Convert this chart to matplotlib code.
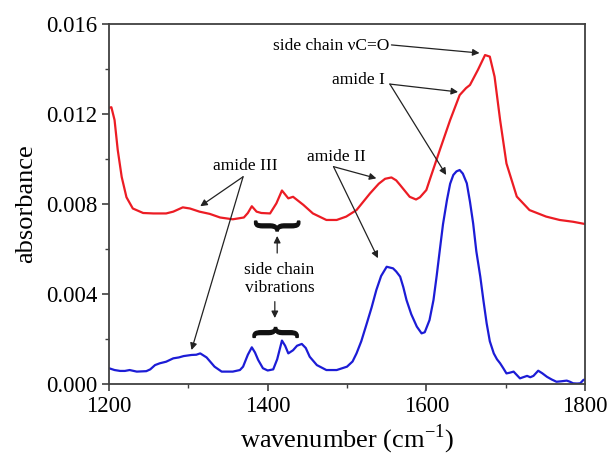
# FTIR spectra: two absorbance curves with band assignments

import matplotlib
matplotlib.use('Agg')
import matplotlib.pyplot as plt
from matplotlib.textpath import TextPath
from matplotlib.patches import PathPatch
from matplotlib.font_manager import FontProperties
from matplotlib.transforms import Affine2D

plt.rcParams['font.family'] = ['Liberation Serif', 'DejaVu Serif']
plt.rcParams['mathtext.fontset'] = 'custom'
plt.rcParams['mathtext.rm'] = 'Liberation Serif'

# red spectrum (upper)
red_x = [1200, 1203, 1207, 1211, 1216, 1222, 1230, 1243, 1256, 1272, 1281, 1293,
         1302, 1314, 1327, 1340, 1356, 1370, 1375, 1380, 1386, 1392, 1403, 1411,
         1418, 1426, 1432, 1445, 1457, 1474, 1487, 1499, 1512, 1529, 1540, 1548,
         1556, 1562, 1567, 1579, 1587, 1592, 1600, 1605, 1617, 1630, 1642, 1650,
         1655, 1665, 1674, 1680, 1686, 1693, 1701, 1714, 1730, 1751, 1768, 1785,
         1800]
red_y = [0.01228, 0.01230, 0.01173, 0.01040, 0.00920, 0.00830, 0.00780, 0.00760,
         0.00758, 0.00758, 0.00766, 0.00785, 0.00780, 0.00766, 0.00756, 0.00740,
         0.00732, 0.00740, 0.00760, 0.00790, 0.00766, 0.00760, 0.00758, 0.00803,
         0.00860, 0.00825, 0.00832, 0.00796, 0.00758, 0.00729, 0.00729, 0.00744,
         0.00773, 0.00847, 0.00890, 0.00912, 0.00918, 0.00905, 0.00884, 0.00832,
         0.00820, 0.00830, 0.00862, 0.00915, 0.01040, 0.01173, 0.01284, 0.01315,
         0.01329, 0.01396, 0.01462, 0.01455, 0.01366, 0.01173, 0.00980, 0.00833,
         0.00773, 0.00744, 0.00729, 0.00721, 0.00711]

# blue spectrum (lower)
blue_x = [1200, 1207, 1214, 1220, 1226, 1235, 1247, 1252, 1258, 1264, 1272, 1281,
          1288, 1294, 1304, 1310, 1315, 1323, 1333, 1342, 1356, 1365, 1369, 1375,
          1380, 1384, 1388, 1394, 1400, 1407, 1412, 1418, 1422, 1426, 1432, 1437,
          1443, 1448, 1453, 1462, 1474, 1487, 1500, 1507, 1512, 1518, 1525, 1531,
          1537, 1543, 1550, 1558, 1562, 1567, 1571, 1575, 1581, 1588, 1594, 1598,
          1604, 1609, 1613, 1617, 1621, 1626, 1630, 1634, 1638, 1642, 1646, 1651,
          1655, 1659, 1663, 1668, 1672, 1676, 1680, 1685, 1689, 1693, 1697, 1701,
          1705, 1710, 1714, 1718, 1722, 1727, 1731, 1735, 1741, 1746, 1752, 1758,
          1764, 1770, 1777, 1781, 1785, 1790, 1794, 1798, 1800]
blue_y = [0.00070, 0.00062, 0.00058, 0.00058, 0.00062, 0.00055, 0.00057, 0.00065,
          0.00084, 0.00092, 0.00099, 0.00114, 0.00118, 0.00124, 0.00129, 0.00130,
          0.00136, 0.00118, 0.00077, 0.00055, 0.00055, 0.00062, 0.00077, 0.00130,
          0.00163, 0.00140, 0.00107, 0.00070, 0.00060, 0.00065, 0.00110, 0.00193,
          0.00170, 0.00136, 0.00150, 0.00170, 0.00178, 0.00160, 0.00121, 0.00084,
          0.00062, 0.00062, 0.00077, 0.00100, 0.00136, 0.00190, 0.00270, 0.00340,
          0.00418, 0.00480, 0.00521, 0.00514, 0.00500, 0.00477, 0.00430, 0.00373,
          0.00310, 0.00255, 0.00225, 0.00230, 0.00284, 0.00373, 0.00480, 0.00596,
          0.00710, 0.00818, 0.00890, 0.00929, 0.00945, 0.00951, 0.00935, 0.00892,
          0.00810, 0.00714, 0.00590, 0.00477, 0.00370, 0.00270, 0.00190, 0.00136,
          0.00110, 0.00092, 0.00070, 0.00047, 0.00050, 0.00055, 0.00040, 0.00025,
          0.00030, 0.00036, 0.00030, 0.00036, 0.00059, 0.00048, 0.00032, 0.00020,
          0.00010, 0.00012, 0.00015, 0.00010, 0.00003, 0.00002, 0.00003, 0.00018,
          0.00020]

y_ticks = [0.000, 0.004, 0.008, 0.012, 0.016]
x_ticks = [1200, 1400, 1600, 1800]

fig = plt.figure(figsize=(6.09, 4.58), dpi=100)
ax = fig.add_axes([0.179, 0.1616, 0.7816, 0.786])

ax.plot(red_x, red_y, color='#ec1c24', linewidth=1.6, solid_joinstyle='round')
ax.plot(blue_x, blue_y, color='#1c1cd6', linewidth=1.6, solid_joinstyle='round')

ax.set_xlim(1200, 1800)
ax.set_ylim(0, 0.016)
ax.set_xticks(x_ticks)
ax.set_yticks(y_ticks)
ax.set_yticklabels(['%.3f' % v for v in y_ticks])
ax.set_xticks([1300, 1500, 1700], minor=True)
ax.set_yticks([0.002, 0.006, 0.010, 0.014], minor=True)
ax.tick_params(which='major', direction='out', length=5, width=1.2, labelsize=16.5, color='#404040')
ax.tick_params(which='minor', direction='out', length=3, width=1.0, color='#404040')
for s in ax.spines.values():
    s.set_linewidth(1.3)
    s.set_color('#404040')

ax.set_xlabel(r'wavenumber (cm$^{\mathregular{-1}}$)', fontsize=19, labelpad=4)
ax.set_ylabel('absorbance', fontsize=19, labelpad=6)

arrow = dict(arrowstyle='-|>', color='#222222', lw=0.9, mutation_scale=10, shrinkA=0, shrinkB=0)
fs = 12.5

# side chain C=O
ax.text(1553, 0.01500, 'side chain νC=O', fontsize=fs, ha='right', va='center')
ax.annotate('', xy=(1667, 0.01471), xytext=(1556, 0.01507), arrowprops=arrow)

# amide I
ax.text(1548, 0.01351, 'amide I', fontsize=fs, ha='right', va='center')
ax.annotate('', xy=(1640, 0.01298), xytext=(1554, 0.01333), arrowprops=arrow)
ax.annotate('', xy=(1625, 0.00929), xytext=(1554, 0.01333), arrowprops=arrow)

# amide II
ax.text(1524, 0.01009, 'amide II', fontsize=fs, ha='right', va='center')
ax.annotate('', xy=(1537, 0.00914), xytext=(1483, 0.00966), arrowprops=arrow)
ax.annotate('', xy=(1539, 0.00559), xytext=(1483, 0.00966), arrowprops=arrow)

# amide III
ax.text(1412, 0.00969, 'amide III', fontsize=fs, ha='right', va='center')
ax.annotate('', xy=(1315, 0.00790), xytext=(1369, 0.00921), arrowprops=arrow)
ax.annotate('', xy=(1304, 0.00151), xytext=(1369, 0.00921), arrowprops=arrow)

# side chain vibrations with braces
ax.text(1415, 0.00466, 'side chain\nvibrations', fontsize=fs, ha='center', va='center',
        linespacing=1.15)
ax.annotate('', xy=(1412, 0.00658), xytext=(1412, 0.00582), arrowprops=arrow)
ax.annotate('', xy=(1409, 0.00293), xytext=(1409, 0.00366), arrowprops=arrow)

brace = TextPath((0, 0), '{', size=1, prop=FontProperties(family='Liberation Serif', weight='bold'))
ext = brace.get_extents()
bcx, bcy = (ext.x0 + ext.x1) / 2, (ext.y0 + ext.y1) / 2


def add_brace(xc, yc, width, height, tip_down=True):
    sy = height / ext.width
    if not tip_down:
        sy = -sy
    tr = (Affine2D().translate(-bcx, -bcy).rotate_deg(90)
          .scale(width / ext.height, sy).translate(xc, yc))
    ax.add_patch(PathPatch(tr.transform_path(brace), facecolor='#111111',
                           edgecolor='#111111', lw=1.0))


add_brace(1412, 0.00702, 57, 0.00044, tip_down=True)
add_brace(1410, 0.00229, 57, 0.00044, tip_down=False)

fig.savefig('out.png', dpi=100)
